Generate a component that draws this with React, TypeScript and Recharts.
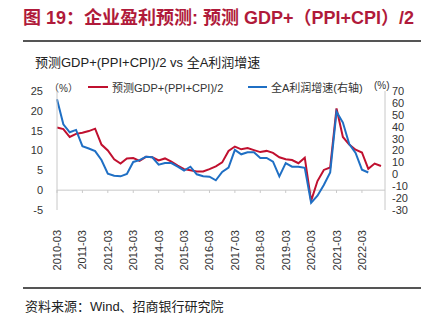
import { LineChart, Line, XAxis, YAxis, ReferenceLine, Legend } from "recharts";

const quarters = [
  "2010-03", "2010-06", "2010-09", "2010-12",
  "2011-03", "2011-06", "2011-09", "2011-12",
  "2012-03", "2012-06", "2012-09", "2012-12",
  "2013-03", "2013-06", "2013-09", "2013-12",
  "2014-03", "2014-06", "2014-09", "2014-12",
  "2015-03", "2015-06", "2015-09", "2015-12",
  "2016-03", "2016-06", "2016-09", "2016-12",
  "2017-03", "2017-06", "2017-09", "2017-12",
  "2018-03", "2018-06", "2018-09", "2018-12",
  "2019-03", "2019-06", "2019-09", "2019-12",
  "2020-03", "2020-06", "2020-09", "2020-12",
  "2021-03", "2021-06", "2021-09", "2021-12",
  "2022-03", "2022-06", "2022-09", "2022-12",
];

// 预测GDP+(PPI+CPI)/2, left axis (%)
const forecast = [
  15.8, 15.4, 13.4, 14.2, 14.5, 14.9, 15.5, 11.5, 10.0, 7.8,
  6.7, 8.0, 8.1, 7.4, 8.4, 8.3, 7.5, 8.0, 7.2, 6.2,
  5.3, 5.0, 4.7, 4.7, 5.3, 6.0, 7.0, 9.9, 11.0, 10.3,
  10.6, 10.1, 9.6, 9.9, 9.4, 8.3, 7.8, 7.6, 6.8, 8.2,
  -2.7, 2.3, 5.1, 5.7, 20.6, 13.4, 11.5, 10.2, 9.5, 5.4,
  6.7, 6.1,
];

// 全A利润增速, right axis (%)
const profit = [
  63, 42, 35.3, 37.3, 23.7, 21.7, 19.5, 12, 0.5, -1.2,
  -1.7, 0.3, 10.4, 11.9, 14.8, 14.3, 8.1, 9.4, 9.4, 6.4,
  3.2, 6.4, 0, -1.7, -2, -5, 2, 5.7, 20.5, 16.8,
  18.5, 18.5, 13.8, 13.8, 10.6, -1.7, 9.4, 6.4, 6.4, 5.5,
  -24, -18, -9, 1.5, 52.6, 43.5, 25.4, 18, 3.9, 1.5,
];

const leftTicks = [-5, 0, 5, 10, 15, 20, 25];
const rightTicks = [-30, -20, -10, 0, 10, 20, 30, 40, 50, 60, 70];

const data = quarters.map((q, i) => ({
  q,
  forecast: forecast[i],
  profit: i < profit.length ? profit[i] : null,
}));

const tickCats = quarters.filter((_, i) => i % 4 === 0);

const RED = "#c0102f";
const BLUE = "#1f6fc4";
const FONT = '"Liberation Sans", Arial, "Noto Sans CJK SC", sans-serif';

const XTick = (props: any) => {
  const { x, payload } = props;
  const y = 230;
  return (
    <text
      x={x}
      y={y}
      transform={`rotate(-90 ${x} ${y})`}
      textAnchor="end"
      dominantBaseline="central"
      fontSize={11}
      fill="#333"
      fontFamily={FONT}
    >
      {payload.value}
    </text>
  );
};

const renderLegend = () => (
  <div style={{ position: "relative", height: 16, fontSize: 11, color: "#333", fontFamily: FONT }}>
    <div style={{ position: "absolute", left: 88, top: 7, width: 20, height: 2, background: RED }} />
    <span style={{ position: "absolute", left: 112, top: 0, whiteSpace: "nowrap" }}>预测GDP+(PPI+CPI)/2</span>
    <div style={{ position: "absolute", left: 248, top: 7, width: 19, height: 2, background: BLUE }} />
    <span style={{ position: "absolute", left: 271, top: 0, whiteSpace: "nowrap" }}>全A利润增速(右轴)</span>
  </div>
);

export default function App() {
  return (
    <div
      style={{
        position: "absolute",
        left: 0,
        top: 0,
        width: 439,
        height: 326,
        background: "#fff",
        fontFamily: FONT,
        overflow: "hidden",
      }}
    >
      <div
        style={{
          position: "absolute",
          left: 23,
          top: 6,
          fontSize: 18,
          fontWeight: "bold",
          color: "#b01a3a",
          whiteSpace: "nowrap",
          lineHeight: "24px",
        }}
      >
        图 19：企业盈利预测: 预测 GDP+（PPI+CPI）/2
      </div>
      <div style={{ position: "absolute", left: 23, top: 40, width: 398, height: 2, background: "#555" }} />
      <div
        style={{
          position: "absolute",
          left: 35,
          top: 55,
          fontSize: 13,
          color: "#222",
          whiteSpace: "nowrap",
          lineHeight: "16px",
        }}
      >
        预测GDP+(PPI+CPI)/2 vs 全A利润增速
      </div>
      <div style={{ position: "absolute", left: 49, top: 80, fontSize: 10, color: "#333", whiteSpace: "nowrap" }}>（%）</div>
      <div style={{ position: "absolute", left: 374, top: 80, fontSize: 10, color: "#333", whiteSpace: "nowrap" }}>(%)</div>

      <div style={{ position: "absolute", left: 0, top: 0 }}>
        <LineChart width={439} height={326} data={data} margin={{ top: 91, right: 14, bottom: 50, left: 17 }}>
          <XAxis
            dataKey="q"
            interval={3}
            axisLine={false}
            tickLine={false}
            height={50}
            tick={<XTick />}
            padding={{ left: 0, right: 4 }}
          />
          <YAxis
            yAxisId="left"
            domain={[-5, 25]}
            ticks={leftTicks}
            interval={0}
            width={40}
            axisLine={{ stroke: "#c8c8c8" }}
            tickLine={false}
            tickSize={8}
            tickMargin={6}
            tick={{ fontSize: 11, fill: "#333", fontFamily: FONT }}
          />
          <YAxis
            yAxisId="right"
            orientation="right"
            domain={[-30, 70]}
            ticks={rightTicks}
            interval={0}
            width={40}
            axisLine={{ stroke: "#c8c8c8" }}
            tickLine={false}
            tickSize={4}
            tickMargin={3}
            tick={{ fontSize: 11, fill: "#333", fontFamily: FONT }}
          />
          <ReferenceLine yAxisId="left" y={0} stroke="#c8c8c8" />
          {tickCats.map((c) => (
            <ReferenceLine
              key={c}
              yAxisId="left"
              segment={[
                { x: c, y: 0 },
                { x: c, y: -0.7 },
              ]}
              stroke="#c8c8c8"
            />
          ))}
          <Legend content={renderLegend} wrapperStyle={{ position: "absolute", top: 79, left: 0, width: 439, height: 16 }} />
          <Line
            yAxisId="left"
            dataKey="forecast"
            name="预测GDP+(PPI+CPI)/2"
            stroke={RED}
            strokeWidth={2}
            dot={false}
            isAnimationActive={false}
          />
          <Line
            yAxisId="right"
            dataKey="profit"
            name="全A利润增速(右轴)"
            stroke={BLUE}
            strokeWidth={2}
            dot={false}
            connectNulls={false}
            isAnimationActive={false}
          />
        </LineChart>
      </div>

      <div style={{ position: "absolute", left: 23, top: 287, width: 398, height: 2, background: "#555" }} />
      <div
        style={{
          position: "absolute",
          left: 25,
          top: 299,
          fontSize: 13,
          color: "#222",
          whiteSpace: "nowrap",
          lineHeight: "16px",
        }}
      >
        资料来源：Wind、招商银行研究院
      </div>
    </div>
  );
}
